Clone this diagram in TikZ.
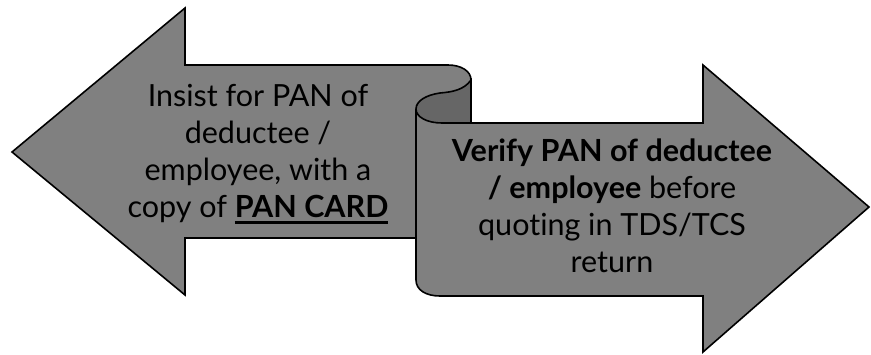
\documentclass[tikz,border=0pt]{standalone}
\usepackage{fontspec}
\setmainfont{Lato}[Ligatures=NoCommon]
% bold text with a heavy underline
\newcommand\heavyul[1]{\setbox0\hbox{#1}\rlap{\rule[-7pt]{\wd0}{3pt}}\box0}
\definecolor{ribbonface}{HTML}{808080}
\definecolor{ribbonback}{HTML}{666666}
\begin{document}
\begin{tikzpicture}[x=1pt,y=-1pt,
  edge/.style={draw=black,line width=1.6pt,line join=miter},
  ribbon/.style={edge,fill=ribbonface},
  curl/.style={edge,fill=ribbonback},
  txt/.style={align=center,inner sep=0pt,font=\fontsize{30.5}{37}\selectfont}]
\useasboundingbox (0,0) rectangle (871,354);
% outer outline of the left-right ribbon arrow
\path[ribbon] (12,152) -- (185,8) -- (185,65) -- (448,65)
  .. controls (461,65) and (471,71) .. (471,80) -- (471,123)
  -- (703,123) -- (703,65) -- (869,207) -- (703,352) -- (703,296)
  -- (440,296) .. controls (426,296) and (416,290) .. (416,280)
  -- (416,238) -- (185,238) -- (185,295) -- cycle;
% rolled-over back side of the ribbon
\path[curl] (471,80) .. controls (464,90) and (452,92) .. (440,93)
  .. controls (426,95) and (416,101) .. (416,109)
  .. controls (416,117) and (427,123) .. (442,123) -- (471,123) -- cycle;
% left edge of the lower strip behind the upper one
\draw[edge] (416,109) -- (416,238);
\node[txt] (lefttext) at (258,154)
  {Insist for PAN of\\deductee /\\employee, with a\\copy of \textbf{\heavyul{PAN CARD}}};
\node[txt] (righttext) at (612,206)
  {\textbf{Verify PAN of deductee}\\\textbf{/ employee} before\\quoting in TDS/TCS\\return};
\end{tikzpicture}
\end{document}
